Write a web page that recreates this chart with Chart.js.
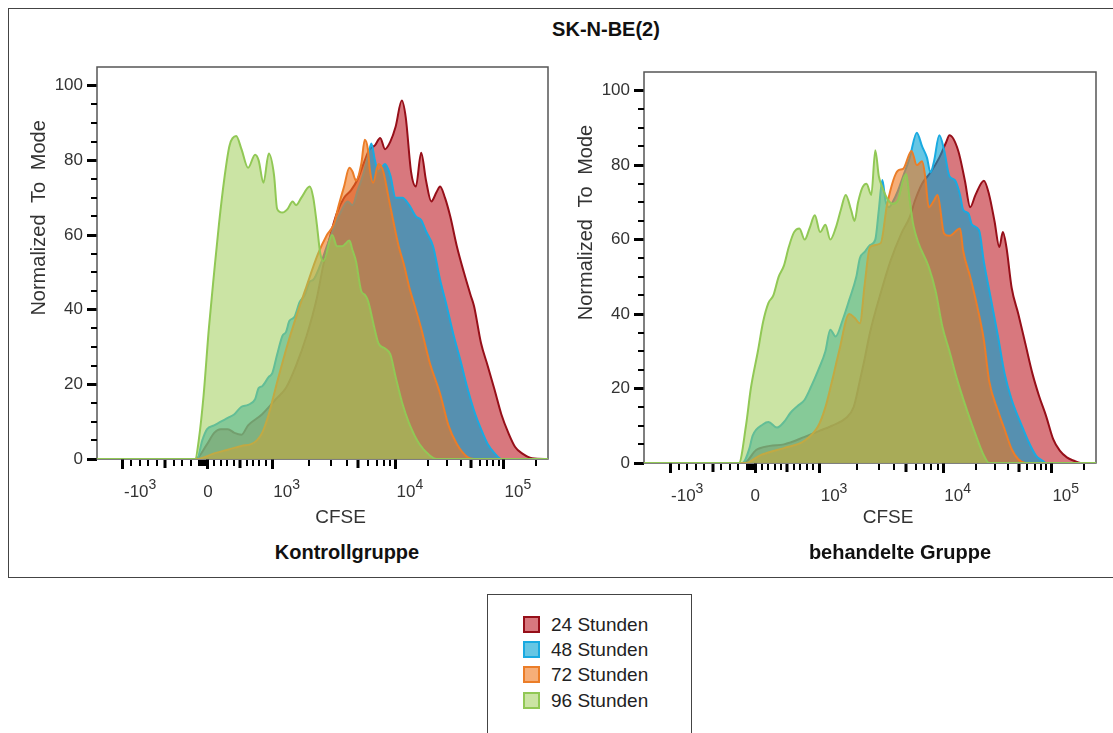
<!DOCTYPE html>
<html>
<head>
<meta charset="utf-8">
<title>SK-N-BE(2) CFSE</title>
<script src="https://cdn.jsdelivr.net/npm/chart.js@4.4.1/dist/chart.umd.min.js"></script>
<style>
  html, body { margin: 0; padding: 0; background: #fff; }
  body { font-family: "Liberation Sans", Arial, sans-serif; color: #222; }
  #page { position: relative; width: 1113px; height: 733px; overflow: hidden; }
  #box { position: absolute; left: 8px; top: 8px; width: 1112px; height: 570px; border: 1px solid #444; box-sizing: border-box; }
  .label { position: absolute; font-weight: bold; font-size: 20px; line-height: 20px; text-align: center; color: #111; white-space: nowrap; }
  canvas { position: absolute; top: 0; }
  #legend { position: absolute; left: 487px; top: 594px; width: 205px; height: 160px; border: 1px solid #444; box-sizing: border-box; }
  .item { position: absolute; left: 35px; height: 20px; font-size: 19px; line-height: 20px; color: #222; white-space: nowrap; }
  .swatch { position: absolute; left: 0; top: 1px; width: 17px; height: 17px; box-sizing: border-box; border: 2px solid; }
  .item span { position: absolute; left: 28px; top: 0; }
</style>
</head>
<body>
<div id="page">
  <div id="box"></div>
  <div class="label" style="left:456px; top:19px; width:300px;">SK-N-BE(2)</div>
  <canvas id="ctrlChart" width="565" height="540" style="left:0px"></canvas>
  <canvas id="trtChart" width="566" height="540" style="left:547px"></canvas>
  <div class="label" style="left:247px; top:542px; width:200px;">Kontrollgruppe</div>
  <div class="label" style="left:800px; top:542px; width:200px;">behandelte Gruppe</div>
  <div id="legend"></div>
</div>

<script>
// Series
const seriesLabels = ["24 Stunden", "48 Stunden", "72 Stunden", "96 Stunden"];
const lineColors = ["rgb(150,15,25)", "rgb(25,170,225)", "rgb(235,125,40)", "rgb(145,200,85)"];
const fillColors = ["rgba(190,30,40,0.6)", "rgba(0,160,210,0.6)", "rgba(240,120,30,0.6)", "rgba(160,205,90,0.55)"];

// y axis (Normalized To Mode)
const yMin = 0, yMax = 105, yStep = 20, yMinorStep = 5;
const yTitle = "Normalized To Mode";

// x axis: biexponential CFSE display, histogram channels 0..1024
const channelMin = 0, channelMax = 1024;
const xTitle = "CFSE";
const xTickValues = [-1000, 0, 1000, 10000, 100000];
const xTickBase = ["-10", "0", "10", "10", "10"];
const xTickExp = ["3", "", "3", "4", "5"];
const xTickChannels = [59, 252, 398, 678, 923];

// Kontrollgruppe histograms (channel, % of mode)
const ctrl24X = [0, 223, 250, 266, 281, 297, 312, 328, 343, 375, 406, 429, 452, 476, 499, 514, 530, 545, 561, 577, 592, 608, 619, 631, 643, 654, 666, 678, 692, 701, 713, 724, 736, 747, 759, 771, 779, 790, 802, 817, 833, 848, 856, 872, 887, 903, 918, 934, 949, 965, 988, 1024];
const ctrl24Y = [0, 0, 4, 7, 8, 8, 7, 6.5, 9, 12, 16, 19, 25, 33, 43, 52, 60, 66, 70, 72, 75, 80, 83, 84, 86, 83, 85, 89, 96, 91.5, 77, 73, 82, 74.6, 69, 71.5, 73, 70, 65, 57, 50, 44, 41, 31, 25, 18.4, 12, 7, 3.3, 1.5, 0.2, 0];
const ctrl48X = [0, 227, 239, 250, 266, 281, 297, 312, 328, 343, 359, 367, 375, 390, 398, 409, 421, 429, 437, 448, 460, 472, 483, 491, 507, 522, 538, 553, 569, 580, 592, 604, 615, 623, 631, 639, 654, 666, 678, 693, 709, 724, 736, 747, 763, 779, 794, 810, 825, 841, 856, 872, 887, 903, 918, 1024];
const ctrl48Y = [0, 0, 5, 8, 9, 10, 11, 12, 14, 14.5, 16, 19, 19.5, 22, 23, 28, 33, 34, 37, 38, 42, 44, 47.5, 48, 52, 57, 62, 66, 69, 68, 72, 76, 81, 84.5, 80, 77, 79, 76, 70, 70, 68, 65, 64, 61, 57, 48, 41, 33, 26.5, 19, 13, 8, 4, 1.5, 0, 0];
const ctrl72X = [0, 227, 266, 297, 328, 350, 363, 375, 390, 410, 431, 452, 475, 502, 522, 538, 549, 561, 573, 580, 588, 600, 608, 615, 619, 627, 639, 650, 662, 674, 685, 697, 709, 724, 736, 755, 779, 798, 817, 841, 856, 1024];
const ctrl72Y = [0, 0, 1.5, 2.5, 3.5, 4, 5, 7, 12, 21, 30, 38, 46, 55, 60, 63, 68, 73, 78, 77, 74.6, 79, 85.5, 83, 78, 74, 79, 77, 70, 63, 57, 52, 46, 40, 35, 26, 17.5, 9, 4, 0.5, 0, 0];
const ctrl96X = [0, 223, 231, 242, 254, 266, 277, 289, 301, 316, 328, 343, 359, 367, 378, 390, 402, 409, 421, 433, 444, 452, 464, 483, 491, 499, 507, 514, 534, 545, 557, 573, 580, 588, 600, 608, 615, 631, 639, 654, 666, 678, 693, 709, 732, 755, 771, 1024];
const ctrl96Y = [0, 0, 5, 17, 35, 50, 63, 75, 84, 86.5, 83, 78, 81.5, 80, 74, 81.8, 76, 67, 66, 67, 69, 68, 70, 73, 70, 63, 55, 53, 60, 57, 57, 58.5, 56, 53, 45, 44, 42.5, 34.5, 31, 29.6, 28, 22, 15, 9.5, 4, 1, 0, 0];

// behandelte Gruppe histograms
const trt24X = [0, 227, 254, 285, 317, 364, 395, 426, 457, 475, 489, 500, 512, 536, 559, 583, 602, 614, 630, 649, 669, 684, 692, 712, 727, 739, 751, 770, 782, 794, 805, 813, 821, 833, 848, 864, 880, 895, 911, 927, 942, 958, 974, 989, 1024];
const trt24Y = [0, 0, 3.5, 4.6, 5, 7, 8.5, 10, 12, 15, 22, 28, 35, 45.5, 54.4, 61.6, 66, 70.5, 75, 78, 82, 86, 88, 83.8, 75.8, 68.7, 72, 75.8, 72, 65, 58, 62, 58, 47, 40, 32, 24, 18, 12.6, 6.4, 3.3, 1.5, 0.6, 0, 0];
const trt48X = [0, 223, 239, 246, 270, 282, 301, 317, 332, 348, 364, 379, 395, 411, 422, 434, 450, 465, 481, 489, 500, 512, 524, 532, 540, 547, 555, 563, 575, 587, 602, 618, 630, 641, 649, 657, 669, 680, 692, 704, 716, 723, 735, 743, 759, 770, 786, 802, 817, 833, 856, 872, 888, 903, 911, 1024];
const trt48Y = [0, 0, 4, 7.3, 10.4, 11, 9.5, 11, 13.5, 15.3, 17, 20.6, 25, 30, 35.8, 34, 38.4, 43.8, 50, 55, 56.7, 58.5, 60, 68, 76, 70.5, 68.7, 70, 73, 77, 82, 88.7, 85, 82, 78, 81, 88, 84, 77, 76, 72, 68, 67, 64, 62.5, 54, 44, 34, 24, 17, 10, 5.5, 2, 0.6, 0, 0];
const trt72X = [0, 231, 262, 301, 317, 364, 395, 411, 426, 442, 465, 477, 489, 500, 512, 536, 551, 575, 587, 606, 618, 630, 637, 645, 657, 665, 680, 692, 716, 723, 739, 755, 770, 782, 802, 817, 833, 848, 864, 1024];
const trt72Y = [0, 0, 2, 3.5, 4, 6, 10, 15, 22, 30, 40, 39, 37.5, 48, 58, 59, 69.6, 78.5, 79, 83.8, 80, 81, 77, 68.7, 70.5, 72, 61.6, 61, 63, 57, 50, 42, 33, 22, 14, 9, 3.7, 1, 0, 0];
const trt96X = [0, 215, 231, 242, 258, 270, 282, 293, 305, 317, 328, 340, 352, 364, 375, 387, 399, 411, 422, 434, 446, 457, 469, 477, 485, 495, 504, 515, 524, 532, 540, 551, 563, 575, 587, 594, 602, 610, 622, 645, 661, 676, 692, 708, 731, 755, 770, 782, 1024];
const trt96Y = [0, 0, 10, 20, 30, 38, 43, 45, 50, 53, 58, 62, 63, 60, 63, 66.5, 62, 64, 60, 63, 68, 72, 68, 65, 70, 74, 75, 72, 84, 77, 74, 71, 69.6, 70.5, 76, 77.6, 70.5, 64, 59, 52.7, 46, 36.6, 30, 23, 14.4, 6.4, 2, 0, 0];

const FONT = '"Liberation Sans", Arial, sans-serif';

// biexponential-style mapping of a CFSE value to a display channel
function toChannel(v) {
  const [cNeg, c0, c1, c2, c3] = xTickChannels;
  if (v <= 0) return c0 + (v / 1000) * (c0 - cNeg);
  if (v <= 1000) return c0 + (v / 1000) * (c1 - c0);
  if (v <= 10000) return c1 + Math.log10(v / 1000) * (c2 - c1);
  return c2 + Math.log10(v / 10000) * (c3 - c2);
}

// minor tick values for the x axis
const xMinorTicks = [];
for (let k = 1; k <= 9; k++) xMinorTicks.push(-k * 100, k * 100, -k * 10);
for (let k = 2; k <= 9; k++) xMinorTicks.push(k * 1000, k * 10000);
xMinorTicks.push(200000);

// frame, minor ticks, tick labels and axis titles
const axisExtras = {
  id: "axisExtras",
  beforeDatasetsDraw(chart) {
    const { ctx, chartArea: a } = chart;
    ctx.save();
    ctx.strokeStyle = "#555";
    ctx.lineWidth = 1.5;
    ctx.strokeRect(a.left, a.top, a.right - a.left, a.bottom - a.top);
    ctx.restore();
  },
  afterDraw(chart) {
    const { ctx, chartArea: a, scales: { x, y } } = chart;
    ctx.save();
    ctx.fillStyle = "#000";
    xMinorTicks.forEach(v => {
      const px = Math.round(x.getPixelForValue(toChannel(v)));
      const half = Math.abs(v) === 500 || v === 5000 || v === 50000;
      if (half) ctx.fillRect(px - 1.5, a.bottom + 1, 3, 8);
      else ctx.fillRect(px - 1, a.bottom + 1, 2, 6);
    });
    for (let v = yMin + yMinorStep; v < yMax; v += yMinorStep) {
      if (v % yStep === 0) continue;
      const py = Math.round(y.getPixelForValue(v));
      ctx.fillRect(a.left - 6, py - 1, 6, 2);
    }

    // x tick labels with exponents
    ctx.fillStyle = "#333";
    ctx.textAlign = "left";
    ctx.textBaseline = "alphabetic";
    const yb = a.bottom + 38;
    xTickValues.forEach((v, i) => {
      const px = x.getPixelForValue(toChannel(v));
      ctx.font = "17px " + FONT;
      const w = ctx.measureText(xTickBase[i]).width;
      const left = xTickExp[i] ? px + 1 : px - w / 2;
      ctx.fillText(xTickBase[i], left, yb);
      if (xTickExp[i]) {
        ctx.font = "14px " + FONT;
        ctx.fillText(xTickExp[i], left + w, yb - 8);
      }
    });

    // axis titles
    ctx.font = "19px " + FONT;
    ctx.textAlign = "center";
    ctx.fillText(xTitle, (a.left + a.right) / 2 + 18, chart.height - 17);

    ctx.font = "20px " + FONT;
    ctx.translate(a.left - 52, a.top + (a.bottom - a.top) * 0.385);
    ctx.rotate(-Math.PI / 2);
    ctx.wordSpacing = "6px";
    ctx.fillText(yTitle, 0, 0);
    ctx.restore();
  }
};

function makeChart(id, xs, ys, topPad, xAxisHeight) {
  const datasets = seriesLabels.map((label, i) => ({
    label,
    data: xs[i].map((c, j) => ({ x: c, y: ys[i][j] })),
    borderColor: lineColors[i],
    backgroundColor: fillColors[i],
    borderWidth: 2,
    pointRadius: 0,
    fill: "origin",
    cubicInterpolationMode: "monotone",
    order: seriesLabels.length - i
  }));

  return new Chart(document.getElementById(id), {
    type: "line",
    data: { datasets },
    plugins: [axisExtras],
    options: {
      responsive: false,
      animation: false,
      devicePixelRatio: 1,
      layout: { padding: { top: topPad, right: 17, bottom: 0, left: 0 } },
      plugins: { legend: { display: false }, tooltip: { enabled: false } },
      scales: {
        x: {
          type: "linear",
          min: channelMin,
          max: channelMax,
          afterBuildTicks: axis => { axis.ticks = xTickValues.map(v => ({ value: toChannel(v) })); },
          afterFit: axis => { axis.height = xAxisHeight; },
          ticks: { display: false },
          border: { display: false },
          grid: { drawOnChartArea: false, drawTicks: true, tickLength: 10, tickWidth: 3, tickColor: "#000" }
        },
        y: {
          min: yMin,
          max: yMax,
          afterFit: axis => { axis.width = 97; },
          ticks: { stepSize: yStep, includeBounds: false, padding: 4, color: "#333", font: { size: 17, family: FONT } },
          border: { display: false },
          grid: { drawOnChartArea: false, drawTicks: true, tickLength: 10, tickWidth: 3, tickColor: "#000" }
        }
      }
    }
  });
}

makeChart("ctrlChart",
  [ctrl24X, ctrl48X, ctrl72X, ctrl96X],
  [ctrl24Y, ctrl48Y, ctrl72Y, ctrl96Y], 67, 81);
makeChart("trtChart",
  [trt24X, trt48X, trt72X, trt96X],
  [trt24Y, trt48Y, trt72Y, trt96Y], 72, 77);

// Legend
const legend = document.getElementById("legend");
seriesLabels.forEach((label, i) => {
  const item = document.createElement("div");
  item.className = "item";
  item.style.top = (20 + i * 25.2) + "px";
  const sw = document.createElement("div");
  sw.className = "swatch";
  sw.style.borderColor = lineColors[i];
  sw.style.background = fillColors[i];
  const span = document.createElement("span");
  span.textContent = label;
  item.appendChild(sw);
  item.appendChild(span);
  legend.appendChild(item);
});
</script>
</body>
</html>
